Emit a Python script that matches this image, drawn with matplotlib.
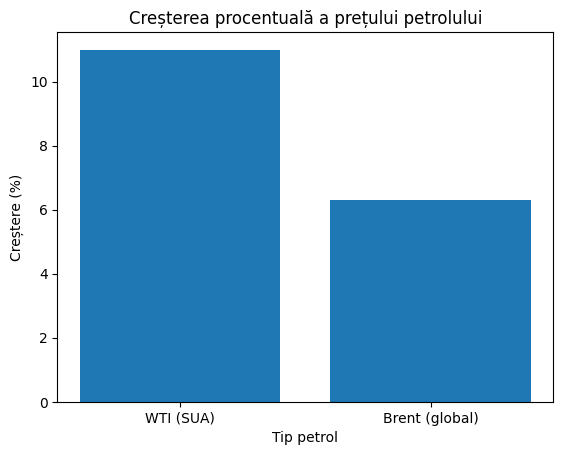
import matplotlib.pyplot as plt

# data
categories = ["WTI (SUA)", "Brent (global)"]
growth = [11.0, 6.3]

fig = plt.figure(figsize=(5.63, 4.55), dpi=100)
ax = fig.add_axes([57.3 / 563, 1 - 402 / 455, (553.5 - 57.3) / 563, (402 - 32) / 455])

ax.bar(categories, growth, color="#1f77b4")

ax.set_title("Creșterea procentuală a prețului petrolului")
ax.set_xlabel("Tip petrol")
ax.set_ylabel("Creștere (%)")

fig.savefig("out.png", dpi=100)
plt.close(fig)
